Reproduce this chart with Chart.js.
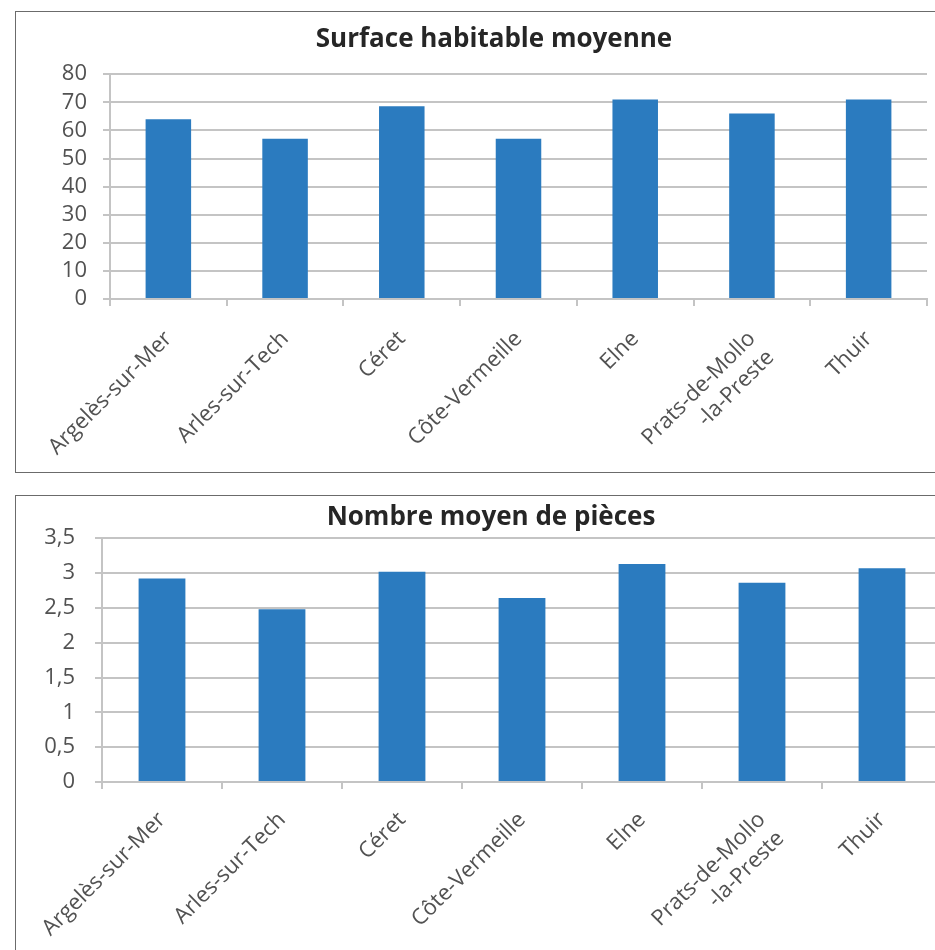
<!DOCTYPE html>
<html lang="fr">
<head>
<meta charset="utf-8">
<title>Logements - surface et pièces</title>
<script src="https://cdn.jsdelivr.net/npm/chart.js@4.4.1/dist/chart.umd.min.js"></script>
<style>
  html, body { margin: 0; padding: 0; background: #fff; overflow: hidden; width: 935px; height: 950px; }
  .cadre { position: absolute; left: 15px; border: 1px solid #6b6b6b; background: #fff; }
  #cadreSurface { top: 11px; }
  #cadrePieces { top: 495px; }
  canvas { display: block; }
</style>
</head>
<body>
<div class="cadre" id="cadreSurface"><canvas id="graphSurface" width="924" height="460"></canvas></div>
<div class="cadre" id="cadrePieces"><canvas id="graphPieces" width="940" height="470"></canvas></div>

<script>
// --- DONNÉES ---
const communes = ["Argelès-sur-Mer", "Arles-sur-Tech", "Céret", "Côte-Vermeille", "Elne", ["Prats-de-Mollo", "-la-Preste"], "Thuir"];
const surfaceMoyenne = [64, 57, 68.6, 57, 71, 66, 71];
const piecesMoyennes = [2.92, 2.48, 3.02, 2.64, 3.13, 2.86, 3.07];
const ticksSurface = [0, 10, 20, 30, 40, 50, 60, 70, 80];
const ticksPieces = [0, 0.5, 1, 1.5, 2, 2.5, 3, 3.5];

const BLEU = "#2b7bbf";
const GRIS_GRILLE = "#c4c4c4";
const GRIS_TEXTE = "#525252";
const POLICE = "'Open Sans', Lato, sans-serif";

// décale le titre horizontalement (le titre n'est pas centré sur le canvas)
const pluginTitreDecale = {
    id: "titreDecale",
    afterLayout(chart, args, opts) {
        const bloc = chart.titleBlock;
        if (!bloc || opts.centre == null) return;
        const dx = opts.centre - (bloc.left + bloc.right) / 2;
        bloc.left += dx;
        bloc.right += dx;
    }
};

// fabrique un graphique à barres avec une zone de tracé fixée en pixels
function creerGraphique(idCanvas, titre, valeurs, graduations, zone) {
    const ctx = document.getElementById(idCanvas).getContext("2d");
    return new Chart(ctx, {
        type: "bar",
        data: {
            labels: communes,
            datasets: [{
                data: valeurs,
                backgroundColor: BLEU,
                borderWidth: 0,
                categoryPercentage: 1,
                barPercentage: 0.39
            }]
        },
        plugins: [pluginTitreDecale],
        options: {
            responsive: false,
            animation: false,
            locale: "fr-FR",
            layout: { padding: { left: 0, right: zone.droite, top: 0, bottom: 0 } },
            plugins: {
                legend: { display: false },
                tooltip: { enabled: false },
                titreDecale: { centre: zone.centreTitre },
                title: {
                    display: true,
                    text: titre,
                    color: "#262626",
                    font: { family: POLICE, size: 26, weight: "bold", lineHeight: 1.2 },
                    padding: { top: zone.titreHaut, bottom: zone.titreBas }
                }
            },
            scales: {
                x: {
                    grid: { display: true, drawOnChartArea: false, drawTicks: true, tickLength: 7, color: GRIS_GRILLE, lineWidth: 2 },
                    border: { display: true, color: GRIS_GRILLE, width: 2 },
                    ticks: {
                        color: GRIS_TEXTE,
                        font: { family: POLICE, size: 22 },
                        minRotation: 45,
                        maxRotation: 45,
                        autoSkip: false,
                        padding: zone.ecartX
                    },
                    afterFit: scale => { scale.height = zone.hauteurX; }
                },
                y: {
                    min: graduations[0],
                    max: graduations[graduations.length - 1],
                    afterBuildTicks: scale => { scale.ticks = graduations.map(v => ({ value: v })); },
                    grid: { color: GRIS_GRILLE, lineWidth: 2, tickLength: 7 },
                    border: { display: true, color: GRIS_GRILLE, width: 2 },
                    ticks: {
                        color: GRIS_TEXTE,
                        font: { family: POLICE, size: 22 },
                        padding: zone.ecartY,
                        autoSkip: false,
                        callback: v => String(v).replace(".", ",")
                    },
                    afterFit: scale => { scale.width = zone.largeurY; }
                }
            }
        }
    });
}

creerGraphique("graphSurface", "Surface habitable moyenne", surfaceMoyenne, ticksSurface,
    { droite: 13, titreHaut: 12, titreBas: 19, hauteurX: 173, largeurY: 94, ecartY: 16, ecartX: 20, centreTitre: 478 });

creerGraphique("graphPieces", "Nombre moyen de pièces", piecesMoyennes, ticksPieces,
    { droite: 14, titreHaut: 6, titreBas: 5, hauteurX: 184, largeurY: 86, ecartY: 20, ecartX: 18, centreTitre: 475 });
</script>
</body>
</html>
